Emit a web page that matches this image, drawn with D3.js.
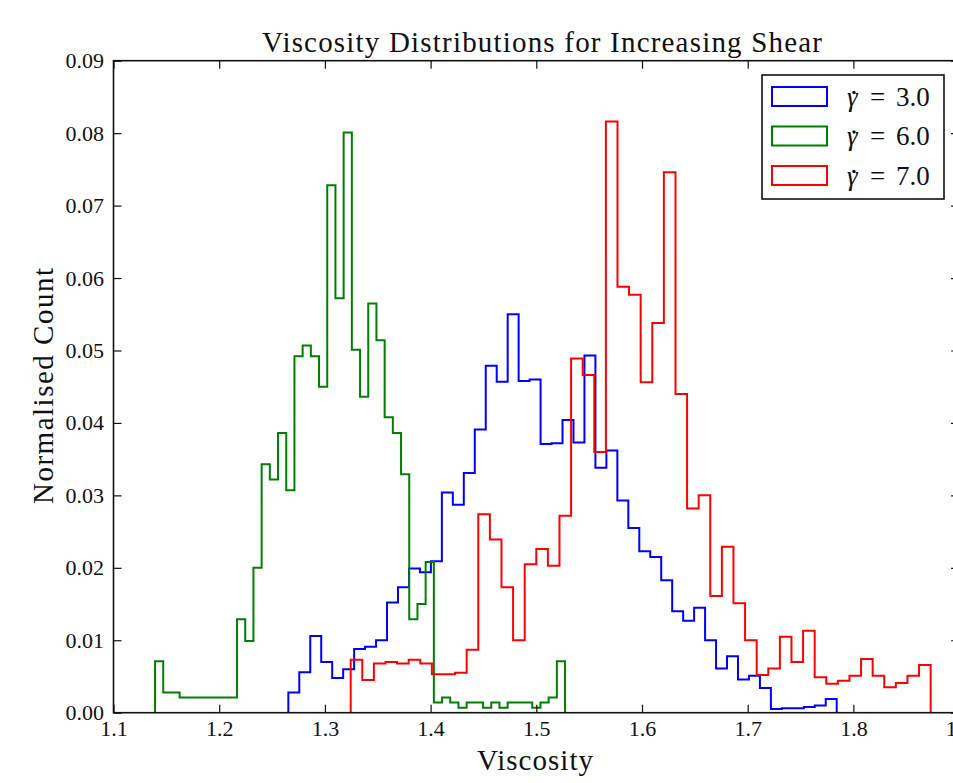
<!DOCTYPE html>
<html>
<head>
<meta charset="utf-8">
<script src="https://cdnjs.cloudflare.com/ajax/libs/d3/7.8.5/d3.min.js"></script>
<style>
  body { margin: 0; background: #fff; }
  text { font-family: "Liberation Serif", "DejaVu Serif", serif; fill: #111; }
</style>
</head>
<body>
<div id="chart"></div>
<script>
// shear rates shown in the legend
var shearRates = [3.0, 6.0, 7.0];
var seriesColors = ['#0000ff', '#008000', '#ff0000'];

// first and last bin edge of each histogram (50 equal bins each)
var binStart = [1.2654, 1.1393, 1.3244];
var binEnd = [1.7842, 1.5272, 1.8731];

// normalised counts per bin
var counts3 = [
  0.0028, 0.0056, 0.0106, 0.0070, 0.0048, 0.0060, 0.0088, 0.0091, 0.0100, 0.0152,
  0.0173, 0.0199, 0.0194, 0.0209, 0.0304, 0.0287, 0.0331, 0.0391, 0.0479, 0.0457,
  0.0550, 0.0458, 0.0460, 0.0371, 0.0372, 0.0404, 0.0373, 0.0493, 0.0338, 0.0362,
  0.0293, 0.0255, 0.0223, 0.0215, 0.0183, 0.0140, 0.0127, 0.0145, 0.0100, 0.0061,
  0.0078, 0.0046, 0.0051, 0.0034, 0.0005, 0.0006, 0.0006, 0.0008, 0.0010, 0.0019
];
var counts6 = [
  0.0071, 0.0028, 0.0028, 0.0021, 0.0021, 0.0021, 0.0021, 0.0021, 0.0021, 0.0021,
  0.0129, 0.0099, 0.0200, 0.0343, 0.0322, 0.0386, 0.0307, 0.0492, 0.0507, 0.0492,
  0.0450, 0.0728, 0.0572, 0.0801, 0.0501, 0.0436, 0.0565, 0.0514, 0.0408, 0.0386,
  0.0329, 0.0129, 0.0150, 0.0208, 0.0014, 0.0021, 0.0014, 0.0007, 0.0014, 0.0014,
  0.0007, 0.0014, 0.0007, 0.0014, 0.0014, 0.0014, 0.0007, 0.0014, 0.0021, 0.0071
];
var counts7 = [
  0.0073, 0.0045, 0.0068, 0.0070, 0.0068, 0.0073, 0.0068, 0.0053, 0.0053, 0.0055,
  0.0087, 0.0274, 0.0239, 0.0173, 0.0100, 0.0205, 0.0226, 0.0203, 0.0272, 0.0489,
  0.0466, 0.0360, 0.0816, 0.0588, 0.0577, 0.0456, 0.0538, 0.0746, 0.0440, 0.0282,
  0.0300, 0.0161, 0.0229, 0.0151, 0.0100, 0.0052, 0.0061, 0.0105, 0.0070, 0.0113,
  0.0049, 0.0040, 0.0044, 0.0051, 0.0074, 0.0051, 0.0035, 0.0041, 0.0051, 0.0066
];

var xTicks = [1.1, 1.2, 1.3, 1.4, 1.5, 1.6, 1.7, 1.8, 1.9];
var yTicks = [0, 0.01, 0.02, 0.03, 0.04, 0.05, 0.06, 0.07, 0.08, 0.09];

var width = 953, height = 783;
var margin = {left: 113.5, right: 959.1, top: 60.7, bottom: 712.7};
var fontFam = '"Liberation Serif", "DejaVu Serif", serif';

var svg = d3.select('#chart').append('svg')
  .attr('width', width)
  .attr('height', height)
  .style('display', 'block');

svg.append('rect').attr('width', width).attr('height', height).attr('fill', '#fff');

var x = d3.scaleLinear().domain([1.1, 1.9]).range([margin.left, margin.right]);
var y = d3.scaleLinear().domain([0, 0.09]).range([margin.bottom, margin.top]);

// build step outline (like histtype='step') for one series
function stepPoints(start, end, counts) {
  var n = counts.length;
  var w = (end - start) / n;
  var pts = [[start, 0]];
  counts.forEach(function(c, i) {
    pts.push([start + i * w, c]);
    pts.push([start + (i + 1) * w, c]);
  });
  pts.push([end, 0]);
  return pts;
}

var allCounts = [counts3, counts6, counts7];
var line = d3.line()
  .x(function(d) { return x(d[0]); })
  .y(function(d) { return y(d[1]); });

svg.append('defs').append('clipPath').attr('id', 'plotClip')
  .append('rect')
  .attr('x', margin.left).attr('y', margin.top)
  .attr('width', margin.right - margin.left)
  .attr('height', margin.bottom - margin.top);

svg.append('g').attr('clip-path', 'url(#plotClip)')
  .selectAll('path')
  .data(allCounts)
  .enter().append('path')
  .attr('d', function(d, i) { return line(stepPoints(binStart[i], binEnd[i], d)); })
  .attr('fill', 'none')
  .attr('stroke', function(d, i) { return seriesColors[i]; })
  .attr('stroke-width', 2)
  .attr('stroke-linejoin', 'miter');

// axes with inward ticks on all four sides
var tickLen = 8;
var gB = svg.append('g').attr('transform', 'translate(0,' + margin.bottom + ')')
  .call(d3.axisBottom(x).tickValues(xTicks).tickFormat(d3.format('.1f'))
    .tickSize(-tickLen).tickPadding(8));
var gT = svg.append('g').attr('transform', 'translate(0,' + margin.top + ')')
  .call(d3.axisTop(x).tickValues(xTicks).tickFormat('').tickSize(-tickLen));
var gL = svg.append('g').attr('transform', 'translate(' + margin.left + ',0)')
  .call(d3.axisLeft(y).tickValues(yTicks).tickFormat(d3.format('.2f'))
    .tickSize(-tickLen).tickPadding(9.5));
var gR = svg.append('g').attr('transform', 'translate(' + margin.right + ',0)')
  .call(d3.axisRight(y).tickValues(yTicks).tickFormat('').tickSize(-tickLen));

[gB, gT, gL, gR].forEach(function(g) {
  g.attr('font-family', fontFam).attr('font-size', 22);
  g.select('.domain').remove();
  g.selectAll('.tick line').attr('stroke', '#111').attr('stroke-width', 1.2);
  g.selectAll('.tick text').attr('fill', '#222');
});

svg.append('rect')
  .attr('x', margin.left).attr('y', margin.top)
  .attr('width', margin.right - margin.left)
  .attr('height', margin.bottom - margin.top)
  .attr('fill', 'none')
  .attr('stroke', '#111')
  .attr('stroke-width', 1.6);

// title and axis labels
svg.append('text')
  .attr('x', 542)
  .attr('y', 52)
  .attr('text-anchor', 'middle')
  .attr('textLength', 560)
  .attr('lengthAdjust', 'spacing')
  .style('font-size', '29px')
  .text('Viscosity Distributions for Increasing Shear');

svg.append('text')
  .attr('x', 535)
  .attr('y', 770)
  .attr('text-anchor', 'middle')
  .attr('textLength', 116)
  .attr('lengthAdjust', 'spacing')
  .style('font-size', '29px')
  .text('Viscosity');

svg.append('text')
  .attr('transform', 'translate(53,386) rotate(-90)')
  .attr('text-anchor', 'middle')
  .attr('textLength', 236)
  .attr('lengthAdjust', 'spacing')
  .style('font-size', '29px')
  .text('Normalised Count');

// legend
var legend = svg.append('g');
legend.append('rect')
  .attr('x', 762).attr('y', 75)
  .attr('width', 182).attr('height', 124)
  .attr('fill', '#fff')
  .attr('stroke', '#111')
  .attr('stroke-width', 1.6);

var items = legend.selectAll('g.item')
  .data(shearRates)
  .enter().append('g')
  .attr('class', 'item')
  .attr('transform', function(d, i) { return 'translate(0,' + (i * 39.5) + ')'; });

items.append('rect')
  .attr('x', 772).attr('y', 87)
  .attr('width', 55).attr('height', 19)
  .attr('fill', 'none')
  .attr('stroke', function(d, i) { return seriesColors[i]; })
  .attr('stroke-width', 2);

var lt = items.append('text')
  .attr('y', 105.5)
  .style('font-size', '27px');
lt.append('tspan').attr('x', 847).style('font-style', 'italic').text('\u03b3');
lt.append('tspan').attr('x', 870).text('=');
lt.append('tspan').attr('x', 896).text(function(d) { return d3.format('.1f')(d); });

// dot over gamma
items.append('circle')
  .attr('cx', 854).attr('cy', 92.5)
  .attr('r', 1.7)
  .attr('fill', '#111');
</script>
</body>
</html>
